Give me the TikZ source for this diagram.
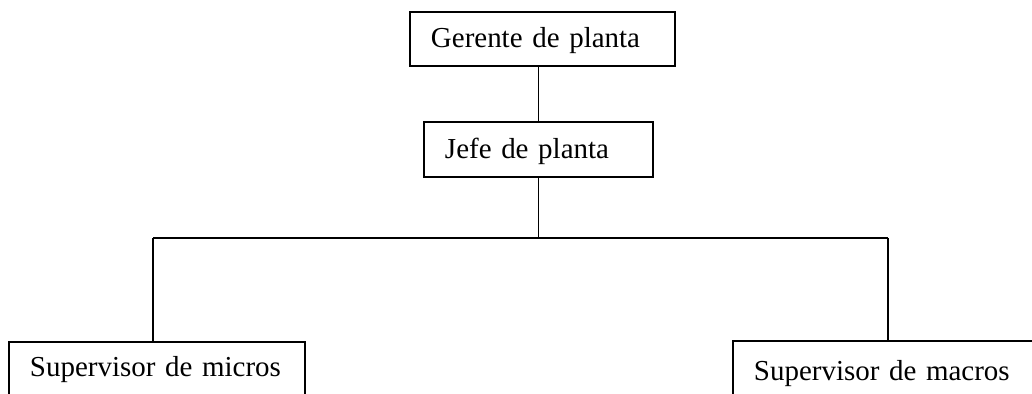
\documentclass[tikz,border=0pt]{standalone}
\usepackage{fontspec}
\setmainfont{Liberation Serif}
\usetikzlibrary{positioning}

\begin{document}
\begin{tikzpicture}[line width=1.4pt,
  cargo/.style={draw, anchor=north west, align=left, inner xsep=0.525cm, inner ysep=0pt,
    text height=0.9cm, text depth=0.45cm, font=\fontsize{20.6}{24}\selectfont}]
  \clip (0,0) rectangle (25.8,9.85);
  \node[cargo, text width=5.575cm] (gerente) at (10.225,9.575) {Gerente de planta};
  \node[cargo, text width=4.675cm, text height=0.925cm] (jefe) at (10.575,6.825) {Jefe de planta};
  \node[cargo, text width=6.35cm, text height=0.875cm, text depth=1cm] (micros) at (0.2,1.325) {Supervisor de micros};
  \node[cargo, text width=6.65cm, text height=1cm, text depth=1cm] (macros) at (18.3,1.35) {Supervisor de macros};
  \coordinate (busL) at (3.825,3.9);
  \coordinate (busR) at (22.2,3.9);
  \draw (jefe.north) -- (jefe.north |- gerente.south);
  \draw (jefe.south) -- (jefe.south |- busL);
  \draw (busL) -- (busR);
  \draw (busL) -- (busL |- micros.north);
  \draw (busR) -- (busR |- macros.north);
\end{tikzpicture}
\end{document}
